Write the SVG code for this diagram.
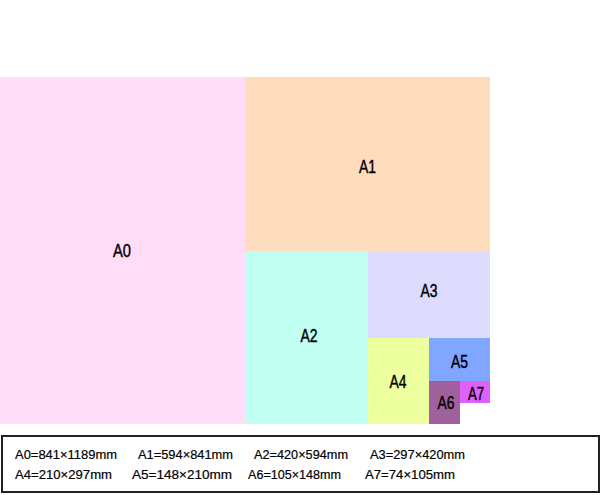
<svg xmlns="http://www.w3.org/2000/svg" width="601" height="495" viewBox="0 0 601 495">
<style>
.lbl{font-family:"Liberation Sans",Arial,sans-serif;font-size:18.5px;fill:#000;stroke:#000;stroke-width:0.45px;text-anchor:middle}
.leg{font-family:"Liberation Sans",Arial,sans-serif;font-size:13px;fill:#000;stroke:#000;stroke-width:0.2px}
</style>
<rect width="601" height="495" fill="#fff"/>
<g id="A0"><rect x="0" y="77" width="245" height="347" fill="#ffdcf8"/><text class="lbl" x="122" y="257" textLength="18" lengthAdjust="spacingAndGlyphs">A0</text></g>
<g id="A1"><rect x="245" y="77" width="245" height="174" fill="#fedcbe"/><text class="lbl" x="367.5" y="173" textLength="17" lengthAdjust="spacingAndGlyphs">A1</text></g>
<g id="A2"><rect x="245" y="251" width="123" height="173" fill="#c0fff2"/><text class="lbl" x="309" y="342" textLength="17" lengthAdjust="spacingAndGlyphs">A2</text></g>
<g id="A3"><rect x="368" y="251" width="122" height="87" fill="#dddcff"/><text class="lbl" x="429" y="297" textLength="17" lengthAdjust="spacingAndGlyphs">A3</text></g>
<g id="A4"><rect x="368" y="338" width="61" height="86" fill="#eeffa0"/><text class="lbl" x="398" y="388" textLength="17" lengthAdjust="spacingAndGlyphs">A4</text></g>
<g id="A5"><rect x="429" y="338" width="61" height="43" fill="#80a6ff"/><text class="lbl" x="459.5" y="368" textLength="17" lengthAdjust="spacingAndGlyphs">A5</text></g>
<g id="A6"><rect x="429" y="381" width="31" height="43" fill="#a0609e"/><text class="lbl" x="446" y="409" textLength="17" lengthAdjust="spacingAndGlyphs">A6</text></g>
<g id="A7"><rect x="460" y="381" width="30" height="22" fill="#e060fe"/><text class="lbl" x="476" y="400" textLength="16" lengthAdjust="spacingAndGlyphs">A7</text></g>
<g id="legend">
<rect x="2" y="436" width="597" height="56" fill="#fff" stroke="#222" stroke-width="2"/>
<text class="leg" x="15" y="459" textLength="102" lengthAdjust="spacingAndGlyphs">A0=841×1189mm</text>
<text class="leg" x="138" y="459" textLength="95" lengthAdjust="spacingAndGlyphs">A1=594×841mm</text>
<text class="leg" x="254" y="459" textLength="94" lengthAdjust="spacingAndGlyphs">A2=420×594mm</text>
<text class="leg" x="370" y="459" textLength="95" lengthAdjust="spacingAndGlyphs">A3=297×420mm</text>
<text class="leg" x="15" y="479" textLength="97" lengthAdjust="spacingAndGlyphs">A4=210×297mm</text>
<text class="leg" x="132" y="479" textLength="100" lengthAdjust="spacingAndGlyphs">A5=148×210mm</text>
<text class="leg" x="248" y="479" textLength="93" lengthAdjust="spacingAndGlyphs">A6=105×148mm</text>
<text class="leg" x="365" y="479" textLength="90" lengthAdjust="spacingAndGlyphs">A7=74×105mm</text>
</g>
</svg>
